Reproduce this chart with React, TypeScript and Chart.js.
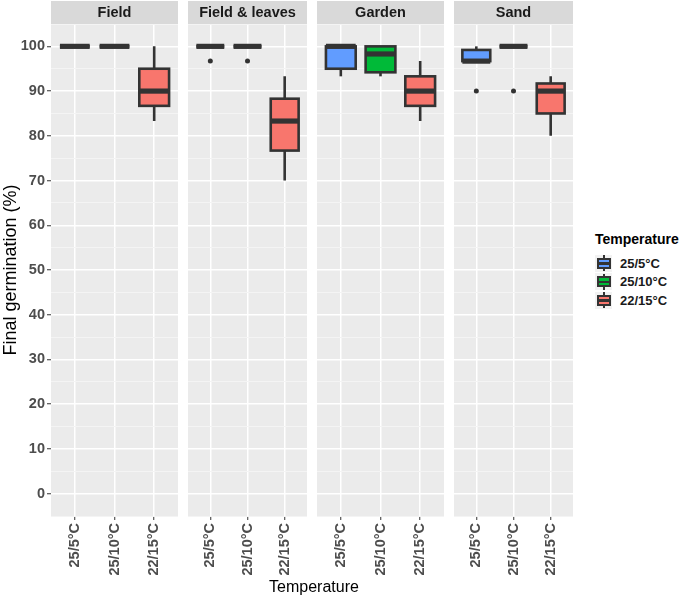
import React, { useEffect, useRef } from 'react';
import { Chart, registerables } from 'chart.js';

Chart.register(...registerables);

const FONT = '"Liberation Sans", Arial, Helvetica, sans-serif';

// ---- data ----
const facets = ['Field', 'Field & leaves', 'Garden', 'Sand'];
const categories = ['25/5°C', '25/10°C', '22/15°C'];
const fillColors = ['#619CFF', '#00BA38', '#F8766D'];
// per facet: [25/5°C, 25/10°C, 22/15°C]
const whiskerLow = [[100, 100, 83.3], [100, 100, 70], [93.3, 93.3, 83.3], [96.7, 100, 80]];
const lowerQuartile = [[100, 100, 86.7], [100, 100, 76.7], [95, 94.2, 86.7], [96.7, 100, 85]];
const medians = [[100, 100, 90], [100, 100, 83.3], [100, 98.3, 90], [96.7, 100, 90]];
const upperQuartile = [[100, 100, 95], [100, 100, 88.3], [100, 100, 93.3], [99.2, 100, 91.7]];
const whiskerHigh = [[100, 100, 100], [100, 100, 93.3], [100, 100, 96.7], [100, 100, 93.3]];
const outliers = [[[], [], []], [[96.7], [96.7], []], [[], [], []], [[90], [90], []]];
const yMin = -5;
const yMax = 105;
const yStep = 5;

// ---- layout ----
const panelLefts = [51, 184, 317, 450];
const panelWidth = 127;
const yAxisWidth = 51;
const canvasHeight = 580;
const stripHeight = 24;
const xAxisHeight = 64;

function Facet({ index }: { index: number }) {
  const ref = useRef<HTMLCanvasElement>(null);
  const showY = index === 0;
  const left = showY ? 0 : panelLefts[index];
  const width = showY ? yAxisWidth + panelWidth : panelWidth;

  useEffect(() => {
    if (!ref.current) return;
    const decor = {
      id: 'decor' + index,
      beforeDraw(chart: any) {
        const { ctx, chartArea: a } = chart;
        ctx.save();
        ctx.fillStyle = '#EBEBEB';
        ctx.fillRect(a.left, a.top, a.right - a.left, a.bottom - a.top);
        ctx.fillStyle = '#D9D9D9';
        ctx.fillRect(a.left, 1, a.right - a.left, a.top - 1);
        ctx.fillStyle = '#1A1A1A';
        ctx.font = `bold 14.5px ${FONT}`;
        ctx.textAlign = 'center';
        ctx.textBaseline = 'middle';
        ctx.fillText(facets[index], (a.left + a.right) / 2, (a.top + 1) / 2 + 0.5);
        ctx.restore();
      },
      afterDatasetsDraw(chart: any) {
        const ctx = chart.ctx;
        const ys = chart.scales.y;
        const meta = chart.getDatasetMeta(0);
        ctx.save();
        ctx.strokeStyle = '#333333';
        ctx.lineCap = 'butt';
        ctx.lineJoin = 'miter';
        meta.data.forEach((bar: any, i: number) => {
          const { x, width: w } = bar.getProps(['x', 'width'], true);
          const pLow = ys.getPixelForValue(whiskerLow[index][i]);
          const pQ1 = ys.getPixelForValue(lowerQuartile[index][i]);
          const pMed = ys.getPixelForValue(medians[index][i]);
          const pQ3 = ys.getPixelForValue(upperQuartile[index][i]);
          const pHigh = ys.getPixelForValue(whiskerHigh[index][i]);
          ctx.lineWidth = 2.6;
          ctx.beginPath();
          ctx.moveTo(x, pQ3);
          ctx.lineTo(x, pHigh);
          ctx.moveTo(x, pQ1);
          ctx.lineTo(x, pLow);
          ctx.stroke();
          ctx.strokeRect(x - w / 2, pQ3, w, pQ1 - pQ3);
          ctx.lineWidth = 5.2;
          ctx.beginPath();
          ctx.moveTo(x - w / 2, pMed);
          ctx.lineTo(x + w / 2, pMed);
          ctx.stroke();
        });
        ctx.restore();
      },
    };

    const isMajor = (v: number) => v % 10 === 0;

    const chart = new Chart(ref.current, {
      type: 'bar',
      data: {
        datasets: [
          {
            type: 'bar',
            data: categories.map((_, i) => ({
              x: i,
              y: [lowerQuartile[index][i], upperQuartile[index][i]],
            })),
            backgroundColor: fillColors,
            borderWidth: 0,
            barPercentage: 0.75,
            categoryPercentage: 1,
          } as any,
          {
            type: 'scatter',
            data: outliers[index].flatMap((vals, i) => vals.map((v) => ({ x: i, y: v }))),
            pointRadius: 2.5,
            pointBackgroundColor: '#333333',
            pointBorderWidth: 0,
          } as any,
        ],
      },
      options: {
        animation: false,
        responsive: false,
        events: [],
        layout: { padding: { top: stripHeight, left: 0, right: 0, bottom: 0 } },
        plugins: { legend: { display: false }, tooltip: { enabled: false } },
        scales: {
          x: {
            type: 'linear',
            min: -0.6,
            max: categories.length - 1 + 0.6,
            offset: false,
            afterBuildTicks: (s: any) => {
              s.ticks = categories.map((_, i) => ({ value: i }));
            },
            afterFit: (s: any) => {
              s.height = xAxisHeight;
            },
            ticks: {
              autoSkip: false,
              minRotation: 90,
              maxRotation: 90,
              padding: 3,
              color: '#4D4D4D',
              font: { family: FONT, size: 14.5, weight: 'bold' },
              callback: (v: any) => categories[Math.round(Number(v))] ?? '',
            },
            grid: {
              offset: false,
              color: '#FFFFFF',
              lineWidth: 1.5,
              drawTicks: true,
              tickLength: 4,
              tickWidth: 1,
              tickColor: '#333333',
            },
            border: { display: false },
          } as any,
          y: {
            type: 'linear',
            min: yMin,
            max: yMax,
            ticks: {
              display: showY,
              stepSize: yStep,
              autoSkip: false,
              padding: 2,
              color: '#4D4D4D',
              font: { family: FONT, size: 14.5, weight: 'bold' },
              callback: (v: any) => (isMajor(Number(v)) && v >= 0 && v <= 100 ? String(v) : ''),
            },
            afterFit: (s: any) => {
              s.width = showY ? yAxisWidth : 0;
            },
            title: {
              display: showY,
              text: 'Final germination (%)',
              color: '#000000',
              font: { family: FONT, size: 18 },
              padding: { top: 0, bottom: 0 },
            },
            grid: {
              color: (c: any) => (c.tick && isMajor(c.tick.value) ? '#FFFFFF' : '#F4F4F4'),
              lineWidth: (c: any) => (c.tick && isMajor(c.tick.value) ? 1.5 : 1),
              drawTicks: showY,
              tickLength: 4,
              tickWidth: 1,
              tickColor: (c: any) =>
                c.tick && isMajor(c.tick.value) && c.tick.value >= 0 && c.tick.value <= 100
                  ? '#333333'
                  : 'rgba(0,0,0,0)',
            },
            border: { display: false },
          } as any,
        },
      },
      plugins: [decor],
    } as any);
    return () => chart.destroy();
  }, [index]);

  return (
    <canvas
      ref={ref}
      width={width}
      height={canvasHeight}
      style={{ position: 'absolute', left, top: 0, width, height: canvasHeight }}
    />
  );
}

function KeyGlyph({ color }: { color: string }) {
  return (
    <div style={{ position: 'relative', width: 17, height: 17, background: '#F2F2F2', flex: 'none' }}>
      <div style={{ position: 'absolute', left: 7.5, top: 0.5, width: 2, height: 3, background: '#333333' }} />
      <div style={{ position: 'absolute', left: 7.5, top: 13.5, width: 2, height: 3, background: '#333333' }} />
      <div
        style={{
          position: 'absolute',
          left: 1.5,
          top: 3,
          width: 14,
          height: 11,
          boxSizing: 'border-box',
          border: '2px solid #333333',
          background: color,
        }}
      />
      <div style={{ position: 'absolute', left: 1.5, top: 7.25, width: 14, height: 2.5, background: '#333333' }} />
    </div>
  );
}

export default function App() {
  return (
    <div
      style={{
        position: 'absolute',
        left: 0,
        top: 0,
        width: 685,
        height: 596,
        background: '#FFFFFF',
        fontFamily: FONT,
        overflow: 'hidden',
      }}
    >
      {facets.map((_, i) => (
        <Facet key={i} index={i} />
      ))}
      <div
        style={{
          position: 'absolute',
          left: panelLefts[0],
          width: panelLefts[3] + panelWidth - panelLefts[0],
          top: 579,
          textAlign: 'center',
          fontSize: 16,
          lineHeight: '16px',
          color: '#000000',
        }}
      >
        Temperature
      </div>
      <div style={{ position: 'absolute', left: 595, top: 230 }}>
        <div style={{ fontWeight: 'bold', fontSize: 14, lineHeight: '18px', color: '#000000', marginBottom: 6 }}>
          Temperature
        </div>
        {categories.map((c, i) => (
          <div key={c} style={{ display: 'flex', alignItems: 'center', height: 18.5 }}>
            <KeyGlyph color={fillColors[i]} />
            <span style={{ marginLeft: 8, fontSize: 13, fontWeight: 'bold', color: '#1A1A1A' }}>{c}</span>
          </div>
        ))}
      </div>
    </div>
  );
}
